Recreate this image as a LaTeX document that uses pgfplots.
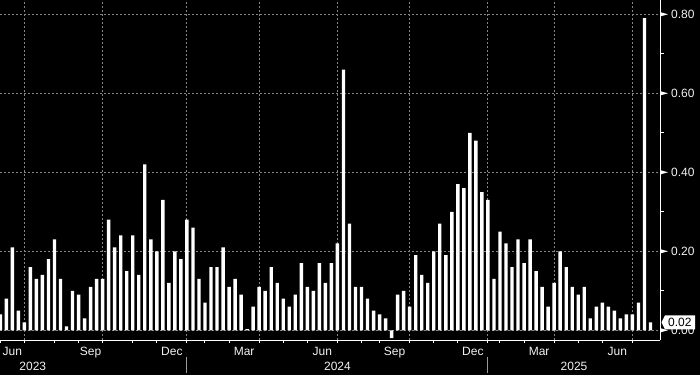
\documentclass[border=0pt]{standalone}
\usepackage{pgfplots}
\pgfplotsset{compat=1.18}
\usepackage{fontspec}
\setmainfont{Liberation Sans}
\definecolor{gridgray}{HTML}{858585}
\definecolor{labelc}{HTML}{F2F2F2}
\definecolor{sepgray}{HTML}{9A9A9A}
\pgfplotstableread{
i v
0 0.04
1 0.08
2 0.21
3 0.05
4 0.02
5 0.16
6 0.13
7 0.14
8 0.18
9 0.23
10 0.13
11 0.01
12 0.10
13 0.09
14 0.03
15 0.11
16 0.13
17 0.13
18 0.28
19 0.21
20 0.24
21 0.15
22 0.24
23 0.14
24 0.42
25 0.23
26 0.20
27 0.33
28 0.12
29 0.20
30 0.18
31 0.28
32 0.26
33 0.13
34 0.07
35 0.16
36 0.16
37 0.21
38 0.11
39 0.13
40 0.09
41 0.003
42 0.06
43 0.11
44 0.10
45 0.16
46 0.12
47 0.08
48 0.06
49 0.09
50 0.17
51 0.11
52 0.10
53 0.17
54 0.12
55 0.17
56 0.22
57 0.66
58 0.27
59 0.11
60 0.11
61 0.08
62 0.05
63 0.04
64 0.03
65 -0.02
66 0.09
67 0.10
68 0.06
69 0.19
70 0.14
71 0.12
72 0.20
73 0.27
74 0.19
75 0.30
76 0.37
77 0.36
78 0.50
79 0.48
80 0.35
81 0.33
82 0.13
83 0.25
84 0.22
85 0.16
86 0.23
87 0.17
88 0.23
89 0.15
90 0.11
91 0.06
92 0.12
93 0.20
94 0.16
95 0.11
96 0.09
97 0.11
98 0.03
99 0.06
100 0.07
101 0.06
102 0.05
103 0.03
104 0.04
105 0.04
106 0.07
107 0.79
108 0.02
}\datatable
\begin{document}
\fontsize{12bp}{14bp}\selectfont
\begin{tikzpicture}
\useasboundingbox (0,0) rectangle (700bp,375bp);
\fill[black] (0,0) rectangle (700bp,375bp);
\begin{axis}[
  at={(0bp,35bp)}, anchor=south west,
  scale only axis, width=660bp, height=340bp,
  xmin=-0.05, xmax=109.58, ymin=-0.0246, ymax=0.8362,
  clip=false,
  axis x line*=bottom, axis y line*=right,
  axis line style={white, line width=1bp},
  xtick={4,17,31,43,56,68,81,92,105},
  minor xtick={0,9,13,22,26,34,38,47,51,60,63,72,76,83,87,96,100},
  xticklabels={},
  xmajorgrids, ymajorgrids,
  major grid style={gridgray, dash pattern=on 2bp off 2bp, line width=1bp},
  ytick={0,0.2,0.4,0.6,0.8},
  tick align=outside,
  major tick length=3bp, minor tick length=3bp,
  xtick style={white, line width=1bp},
  ytick style={draw=none},
  yticklabel style={labelc, anchor=west, inner sep=0pt, xshift=8bp},
  /pgf/number format/.cd, fixed, fixed zerofill, precision=2, assume math mode=true,
]
\addplot[ybar, bar width=3.4bp, fill=white, draw=none] table[x=i, y=v] {\datatable};
% y-axis markers
\fill[white] (axis cs:109.58,0) ++(0bp,2.2bp) -- ++(8bp,-2.2bp) -- ++(-8bp,-2.2bp) -- cycle;
\fill[white] (axis cs:109.58,0.2) ++(0bp,2.2bp) -- ++(8bp,-2.2bp) -- ++(-8bp,-2.2bp) -- cycle;
\fill[white] (axis cs:109.58,0.4) ++(0bp,2.2bp) -- ++(8bp,-2.2bp) -- ++(-8bp,-2.2bp) -- cycle;
\fill[white] (axis cs:109.58,0.6) ++(0bp,2.2bp) -- ++(8bp,-2.2bp) -- ++(-8bp,-2.2bp) -- cycle;
\fill[white] (axis cs:109.58,0.8) ++(0bp,2.2bp) -- ++(8bp,-2.2bp) -- ++(-8bp,-2.2bp) -- cycle;
\draw[white, line width=1bp] (axis cs:109.58,0.1) -- ++(4bp,0bp);
\draw[white, line width=1bp] (axis cs:109.58,0.3) -- ++(4bp,0bp);
\draw[white, line width=1bp] (axis cs:109.58,0.5) -- ++(4bp,0bp);
\draw[white, line width=1bp] (axis cs:109.58,0.7) -- ++(4bp,0bp);
% month labels
\node[labelc, anchor=base, inner sep=0pt, yshift=-15bp] at (axis cs:2,-0.0246) {Jun};
\node[labelc, anchor=base, inner sep=0pt, yshift=-15bp] at (axis cs:15,-0.0246) {Sep};
\node[labelc, anchor=base, inner sep=0pt, yshift=-15bp] at (axis cs:28.5,-0.0246) {Dec};
\node[labelc, anchor=base, inner sep=0pt, yshift=-15bp] at (axis cs:40.5,-0.0246) {Mar};
\node[labelc, anchor=base, inner sep=0pt, yshift=-15bp] at (axis cs:53.5,-0.0246) {Jun};
\node[labelc, anchor=base, inner sep=0pt, yshift=-15bp] at (axis cs:65.5,-0.0246) {Sep};
\node[labelc, anchor=base, inner sep=0pt, yshift=-15bp] at (axis cs:78.5,-0.0246) {Dec};
\node[labelc, anchor=base, inner sep=0pt, yshift=-15bp] at (axis cs:89.5,-0.0246) {Mar};
\node[labelc, anchor=base, inner sep=0pt, yshift=-15bp] at (axis cs:102.5,-0.0246) {Jun};
% year labels and separators
\node[labelc, anchor=base, inner sep=0pt, yshift=-30.7bp] at (axis cs:5.4,-0.0246) {2023};
\node[labelc, anchor=base, inner sep=0pt, yshift=-30.7bp] at (axis cs:56,-0.0246) {2024};
\node[labelc, anchor=base, inner sep=0pt, yshift=-30.7bp] at (axis cs:95.3,-0.0246) {2025};
\draw[sepgray, line width=1bp] (axis cs:31,-0.0246) ++(0bp,-16.7bp) -- ++(0bp,-16.3bp);
\draw[sepgray, line width=1bp] (axis cs:81,-0.0246) ++(0bp,-16.7bp) -- ++(0bp,-16.3bp);
\coordinate (lastv) at (axis cs:109.58,0.02);
\end{axis}
\fill[white] (lastv) ++(1.5bp,0bp) -- ++(3.5bp,7bp) -- ++(30bp,0bp) -- ++(0bp,-14bp) -- ++(-30bp,0bp) -- cycle;
\node[black, anchor=west, inner sep=0pt, xshift=8bp] at (lastv) {0.02};
\end{tikzpicture}
\end{document}
